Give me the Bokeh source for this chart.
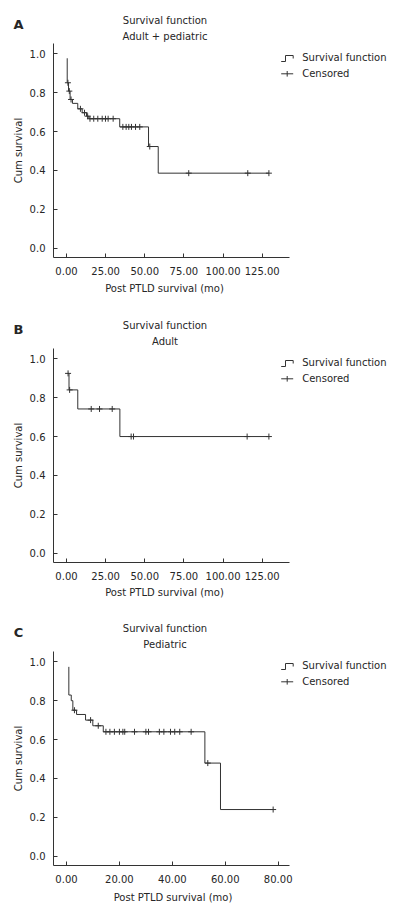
from bokeh.plotting import figure
from bokeh.layouts import column
from bokeh.models import Range1d, FixedTicker, Label
from bokeh.embed import file_html
from bokeh.resources import INLINE

# ---------------- data ----------------
# Panel A: adult + pediatric  (step times / survival after each step)
a_step_t = [0.45, 0.45, 1.3, 2.3, 3.8, 7.2, 10.0, 12.8, 14.3, 34.0, 52.4, 58.6, 129.3]
a_step_s = [0.977, 0.851, 0.808, 0.765, 0.745, 0.717, 0.697, 0.679, 0.666, 0.624, 0.523, 0.386, 0.386]
a_cens_t = [0.9, 1.8, 2.9, 8.9, 11.5, 13.5, 15.0, 17.4, 20.0, 22.8, 24.9, 26.6, 29.8,
            36.0, 38.1, 39.8, 41.5, 44.1, 46.8, 53.2, 78.1, 115.8, 129.3]
a_cens_s = [0.851, 0.808, 0.765, 0.717, 0.697, 0.679, 0.666, 0.666, 0.666, 0.666, 0.666, 0.666, 0.666,
            0.624, 0.624, 0.624, 0.624, 0.624, 0.624, 0.523, 0.386, 0.386, 0.386]

# Panel B: adult
b_step_t = [0.8, 1.6, 7.2, 34.1, 129.3]
b_step_s = [0.925, 0.840, 0.742, 0.600, 0.600]
b_cens_t = [1.0, 2.0, 15.8, 21.1, 29.2, 41.3, 42.8, 115.4, 129.3]
b_cens_s = [0.925, 0.840, 0.742, 0.742, 0.742, 0.600, 0.600, 0.600, 0.600]

# Panel C: pediatric
c_step_t = [0.88, 0.88, 1.8, 2.4, 3.8, 7.2, 9.95, 13.9, 52.3, 58.2, 78.1]
c_step_s = [0.974, 0.829, 0.800, 0.751, 0.729, 0.700, 0.671, 0.640, 0.479, 0.240, 0.240]
c_cens_t = [3.0, 9.1, 12.0, 14.9, 16.4, 18.1, 20.0, 21.3, 22.0, 25.7, 30.0, 31.0, 35.1,
            36.8, 39.3, 40.9, 42.8, 47.1, 53.4, 78.1]
c_cens_s = [0.751, 0.700, 0.671] + [0.640] * 15 + [0.479, 0.240]

# ticks
y_ticks = [0.0, 0.2, 0.4, 0.6, 0.8, 1.0]
y_tick_labels = ["0.0", "0.2", "0.4", "0.6", "0.8", "1.0"]
ab_x_ticks = [0, 25, 50, 75, 100, 125]
ab_x_tick_labels = ["0.00", "25.00", "50.00", "75.00", "100.00", "125.00"]
c_x_ticks = [0, 20, 40, 60, 80]
c_x_tick_labels = ["0.00", "20.00", "40.00", "60.00", "80.00"]

titles = ["Survival function", "Survival function", "Survival function"]
subtitles = ["Adult + pediatric", "Adult", "Pediatric"]
letters = ["A", "B", "C"]
legend_labels = ["Survival function", "Censored"]
x_label = "Post PTLD survival (mo)"
y_label = "Cum survival"

# ---------------- style / layout ----------------
FONT = "DejaVu Sans"
INK = "#262626"
LINE = "#333333"
W = 400
HEAD = 43                 # header strip height (titles); frame top
FRAME_L, FRAME_B = 53, 257
MAIN_BOTTOM = 23          # room for x tick labels
AXIS_END = 289
X0_PX = 66                # pixel of t = 0
Y0_PX, KY = 247.7, 194.4  # pixel of S = 0 (panel coords), pixels per unit


def no_align(f):
    try:
        f.frame_align = False
    except Exception:
        pass


def text_strip(y_top, y_bottom):
    f = figure(width=W, height=y_bottom - y_top, output_backend="svg", toolbar_location=None,
               x_range=Range1d(0, W), y_range=Range1d(y_bottom, y_top),
               x_axis_location=None, y_axis_location=None, min_border=0)
    f.outline_line_color = None
    f.grid.visible = False
    no_align(f)
    return f


def add_text(f, text, x, y, size="10px", style="normal", align="center"):
    f.add_layout(Label(x=x, y=y, text=text, text_font=FONT, text_font_size=size,
                       text_font_style=style, text_color=INK, text_align=align,
                       text_baseline="middle"))


def make_panel(idx, step_t, step_s, cens_t, cens_s, xticks, xlabels, kx, height, xlab_cx, xlab_cy):
    to_x = lambda px: (px - X0_PX) / kx
    to_y = lambda py: (Y0_PX - py) / KY

    # header with panel letter and titles
    head = text_strip(0, HEAD)
    add_text(head, letters[idx], 18, 24, size="13px", style="bold")
    add_text(head, titles[idx], 164.5, 20)
    add_text(head, subtitles[idx], 164.5, 36)

    main_h = FRAME_B - HEAD + MAIN_BOTTOM
    p = figure(width=W, height=main_h, output_backend="svg", toolbar_location=None,
               x_range=Range1d(to_x(FRAME_L), to_x(W)),
               y_range=Range1d(to_y(FRAME_B), to_y(HEAD)),
               min_border_left=FRAME_L, min_border_right=0,
               min_border_top=0, min_border_bottom=MAIN_BOTTOM)
    p.outline_line_color = None
    p.grid.visible = False
    no_align(p)

    for ax in (p.xaxis[0], p.yaxis[0]):
        ax.axis_line_color = LINE
        ax.axis_line_width = 1
        ax.major_tick_line_color = LINE
        ax.major_tick_in = 4
        ax.major_tick_out = 0
        ax.minor_tick_line_color = None
        ax.major_label_text_font = FONT
        ax.major_label_text_font_size = "10px"
        ax.major_label_text_color = INK
    p.xaxis.ticker = FixedTicker(ticks=xticks)
    p.xaxis.major_label_overrides = dict(zip(xticks, xlabels))
    p.xaxis.bounds = (to_x(FRAME_L), to_x(AXIS_END))
    p.xaxis.major_label_standoff = 9
    p.yaxis.ticker = FixedTicker(ticks=y_ticks)
    p.yaxis.major_label_overrides = dict(zip(y_ticks, y_tick_labels))
    p.yaxis.major_label_standoff = 8
    p.yaxis.axis_label = y_label
    p.yaxis.axis_label_text_font = FONT
    p.yaxis.axis_label_text_font_size = "10px"
    p.yaxis.axis_label_text_font_style = "normal"
    p.yaxis.axis_label_text_color = INK
    p.yaxis.axis_label_standoff = 3

    # survival curve + censored marks
    p.step(step_t, step_s, mode="after", line_color=LINE, line_width=1)
    p.scatter(cens_t, cens_s, marker="cross", size=6, line_color=LINE, line_width=1)

    # legend (drawn inside the frame, right of the axis end)
    sym_x = [280.7, 285.0, 285.0, 292.7, 292.7]
    sym_y = [61.0, 61.0, 55.0, 55.0, 58.0]
    p.line([to_x(v) for v in sym_x], [to_y(v) for v in sym_y], line_color=LINE, line_width=1)
    p.line([to_x(280.7), to_x(292.7)], [to_y(73.3), to_y(73.3)], line_color=LINE, line_width=1)
    p.line([to_x(286.7), to_x(286.7)], [to_y(70.5), to_y(76.1)], line_color=LINE, line_width=1)
    add_text(p, legend_labels[0], to_x(301.7), to_y(57.3), align="left")
    add_text(p, legend_labels[1], to_x(301.7), to_y(73.3), align="left")

    # footer with x axis title
    foot = text_strip(FRAME_B + MAIN_BOTTOM, height)
    add_text(foot, x_label, xlab_cx, xlab_cy)
    return [head, p, foot]


panels = []
panels += make_panel(0, a_step_t, a_step_s, a_cens_t, a_cens_s, ab_x_ticks, ab_x_tick_labels,
                     1.5653, 305, 164, 287.7)
panels += make_panel(1, b_step_t, b_step_s, b_cens_t, b_cens_s, ab_x_ticks, ab_x_tick_labels,
                     1.5653, 303, 164, 287.3)
panels += make_panel(2, c_step_t, c_step_s, c_cens_t, c_cens_s, c_x_ticks, c_x_tick_labels,
                     2.646, 307, 172.5, 288.7)

layout = column(*panels, spacing=0)
open("out.html", "w").write(file_html(layout, INLINE))
